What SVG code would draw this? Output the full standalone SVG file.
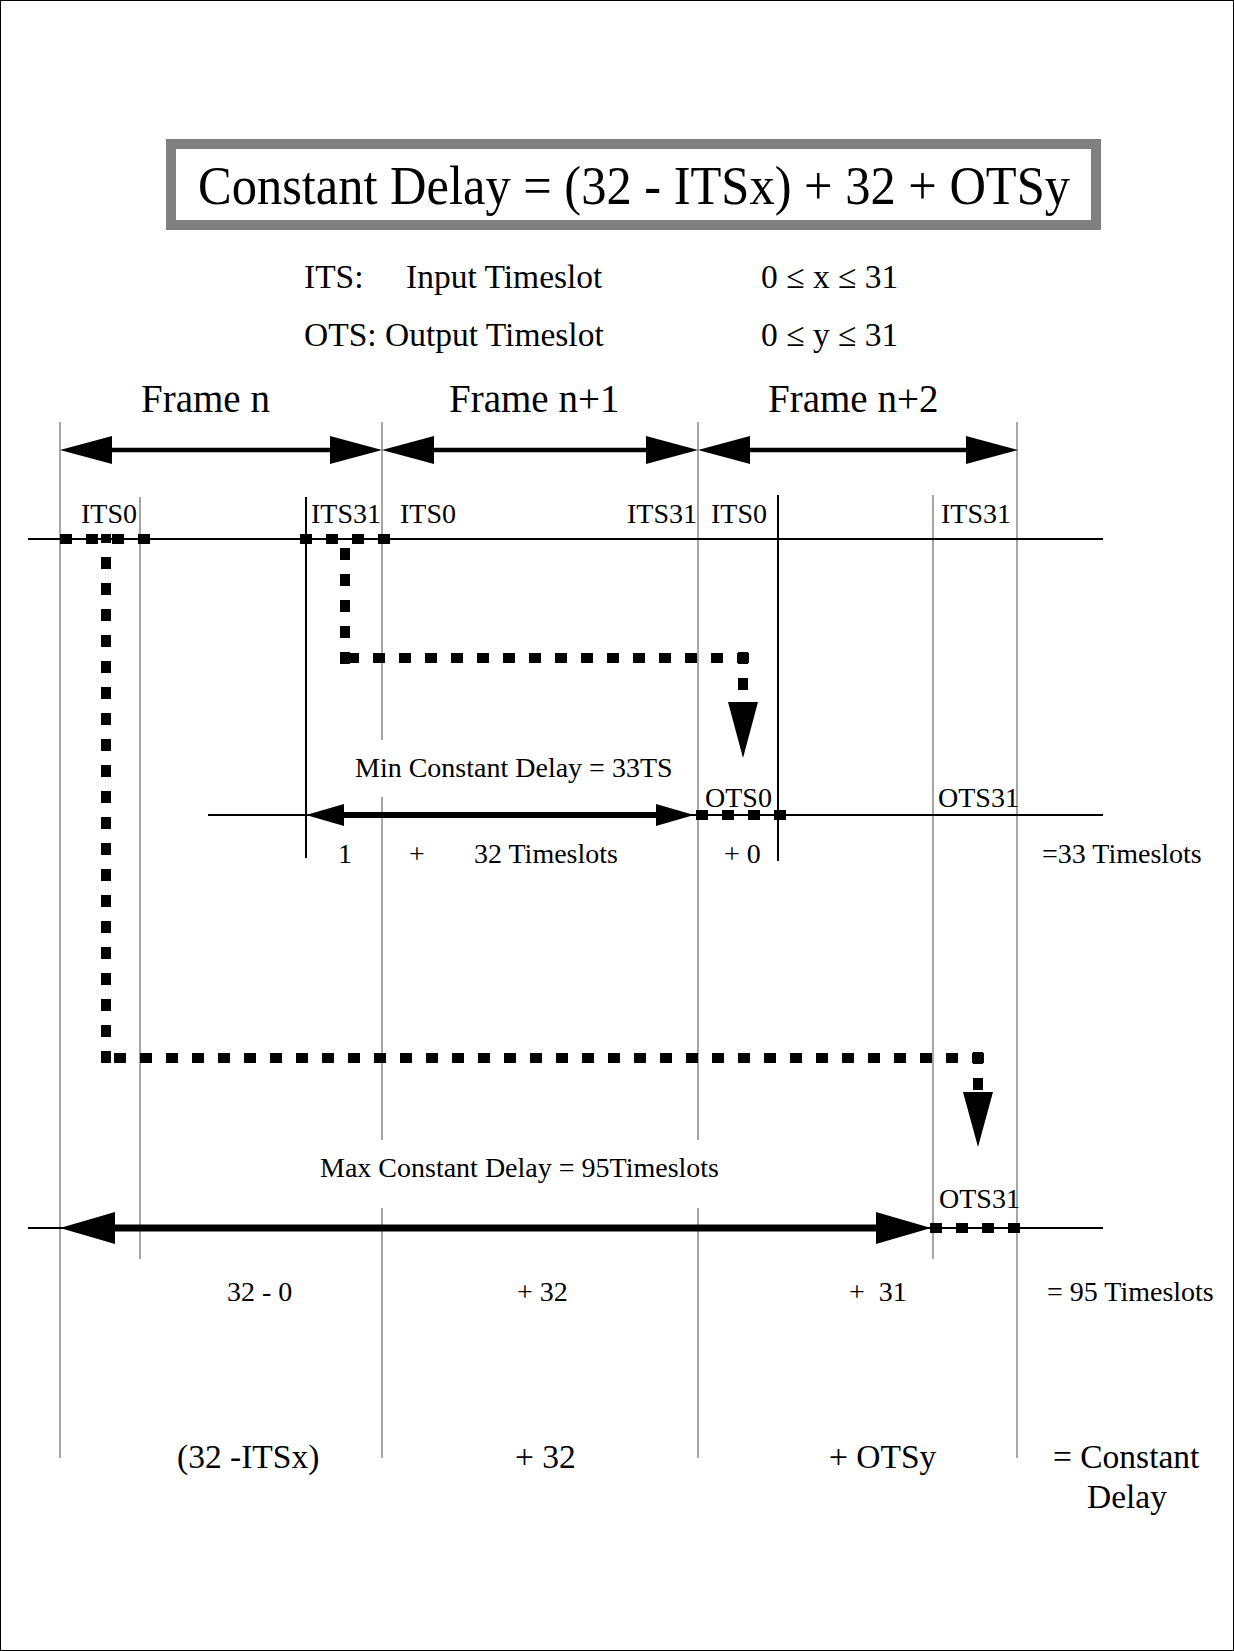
<svg xmlns="http://www.w3.org/2000/svg" width="1234" height="1651" viewBox="0 0 1234 1651">
<style>
text{font-family:"Liberation Serif","Times New Roman",serif;fill:#000}
.t28{font-size:28px}
.t34{font-size:33.5px}
.t39{font-size:39px}
.grid{stroke:#777;stroke-width:1.3;fill:none}
.dark{stroke:#000;stroke-width:2;fill:none}
.axis{stroke:#000;stroke-width:2;fill:none}
.dot{stroke:#000;stroke-width:10;stroke-dasharray:12 14;fill:none}
.head{fill:#000}
</style>
<rect x="0.5" y="0.5" width="1233" height="1650" fill="#fff" stroke="#000" stroke-width="1"/>

<g id="title">
<rect x="171" y="144" width="925" height="81" fill="#fff" stroke="#808080" stroke-width="10"/>
<text x="634" y="204" text-anchor="middle" font-size="55" textLength="872" lengthAdjust="spacingAndGlyphs">Constant Delay = (32 - ITSx) + 32 + OTSy</text>
</g>

<g id="legend">
<text class="t34" x="304" y="288">ITS:</text>
<text class="t34" x="406" y="288">Input Timeslot</text>
<text class="t34" x="761" y="288">0 ≤ x ≤ 31</text>
<text class="t34" x="304" y="346">OTS: Output Timeslot</text>
<text class="t34" x="761" y="346">0 ≤ y ≤ 31</text>
</g>

<g id="frame-labels">
<text class="t39" x="141" y="412">Frame n</text>
<text class="t39" x="449" y="412">Frame n+1</text>
<text class="t39" x="768" y="412">Frame n+2</text>
</g>

<g id="grid">
<line class="grid" x1="60" y1="422" x2="60" y2="1458"/>
<line class="grid" x1="382" y1="422" x2="382" y2="740"/>
<line class="grid" x1="382" y1="797" x2="382" y2="1140"/>
<line class="grid" x1="382" y1="1208" x2="382" y2="1458"/>
<line class="grid" x1="698" y1="422" x2="698" y2="1140"/>
<line class="grid" x1="698" y1="1208" x2="698" y2="1458"/>
<line class="grid" x1="1017" y1="422" x2="1017" y2="1458"/>
<line class="grid" x1="140" y1="497" x2="140" y2="1259"/>
<line class="dark" x1="306" y1="497" x2="306" y2="858"/>
<line class="dark" x1="778" y1="495" x2="778" y2="861"/>
<line class="grid" x1="933" y1="495" x2="933" y2="1259"/>
<line class="axis" x1="28" y1="539" x2="1103" y2="539"/>
<line class="axis" x1="208" y1="815" x2="1103" y2="815"/>
<line class="axis" x1="28" y1="1228" x2="1103" y2="1228"/>
</g>

<g id="slot-labels" class="t28">
<text class="t28" x="81" y="523">ITS0</text>
<text class="t28" x="311" y="523">ITS31</text>
<text class="t28" x="400" y="523">ITS0</text>
<text class="t28" x="627" y="523">ITS31</text>
<text class="t28" x="711" y="523">ITS0</text>
<text class="t28" x="941" y="523">ITS31</text>
<text class="t28" x="705" y="807">OTS0</text>
<text class="t28" x="938" y="807">OTS31</text>
<text class="t28" x="939" y="1208">OTS31</text>
</g>

<g id="connectors">
<!-- frame arrows -->
<line x1="100" y1="450" x2="342" y2="450" stroke="#000" stroke-width="4.5"/>
<polygon class="head" points="60,450 112,436 112,464"/>
<polygon class="head" points="382,450 330,436 330,464"/>
<line x1="420" y1="450" x2="660" y2="450" stroke="#000" stroke-width="4.5"/>
<polygon class="head" points="382,450 434,436 434,464"/>
<polygon class="head" points="698,450 646,436 646,464"/>
<line x1="736" y1="450" x2="979" y2="450" stroke="#000" stroke-width="4.5"/>
<polygon class="head" points="698,450 750,436 750,464"/>
<polygon class="head" points="1018,450 966,436 966,464"/>

<!-- min delay arrow -->
<line x1="330" y1="815" x2="670" y2="815" stroke="#000" stroke-width="6"/>
<polygon class="head" points="306,815 344,804 344,826"/>
<polygon class="head" points="694,815 656,804 656,826"/>

<!-- max delay arrow -->
<line x1="100" y1="1228" x2="890" y2="1228" stroke="#000" stroke-width="7"/>
<polygon class="head" points="60,1228 115,1212 115,1244"/>
<polygon class="head" points="931,1228 876,1212 876,1244"/>

<!-- max path (ITS0 -> OTS31) -->
<line class="dot" x1="60" y1="539" x2="151" y2="539"/>
<line class="dot" x1="106" y1="1063" x2="106" y2="534"/>
<line class="dot" x1="984" y1="1058" x2="100" y2="1058"/>
<line class="dot" x1="978" y1="1052" x2="978" y2="1095" stroke-dasharray="11 6"/>
<polygon class="head" points="963,1092 993,1092 978,1147"/>

<!-- min path (ITS31 -> OTS0) -->
<line class="dot" x1="300" y1="539" x2="391" y2="539"/>
<line class="dot" x1="345" y1="664" x2="345" y2="544"/>
<line class="dot" x1="749" y1="658" x2="340" y2="658"/>
<line class="dot" x1="743" y1="652" x2="743" y2="705" stroke-dasharray="12 8"/>
<polygon class="head" points="728,702 758,702 743,758"/>

<!-- output slot marks -->
<line class="dot" x1="696" y1="815" x2="786" y2="815"/>
<line class="dot" x1="930" y1="1228" x2="1020" y2="1228"/>
</g>

<g id="min-labels">
<text class="t28" x="355" y="777">Min Constant Delay = 33TS</text>
<text class="t28" x="345" y="863" text-anchor="middle">1</text>
<text class="t28" x="417" y="863" text-anchor="middle">+</text>
<text class="t28" x="474" y="863">32 Timeslots</text>
<text class="t28" x="724" y="863">+ 0</text>
<text class="t28" x="1042" y="863">=33 Timeslots</text>
</g>

<g id="max-labels">
<text class="t28" x="320" y="1177">Max Constant Delay = 95Timeslots</text>
<text class="t28" x="227" y="1301">32 - 0</text>
<text class="t28" x="517" y="1301">+ 32</text>
<text class="t28" x="849" y="1301" xml:space="preserve">+  31</text>
<text class="t28" x="1047" y="1301">= 95 Timeslots</text>
</g>

<g id="formula-labels">
<text class="t34" x="177" y="1468">(32 -ITSx)</text>
<text class="t34" x="515" y="1468">+ 32</text>
<text class="t34" x="829" y="1468">+ OTSy</text>
<text class="t34" x="1053" y="1468">= Constant</text>
<text class="t34" x="1087" y="1508">Delay</text>
</g>
</svg>
